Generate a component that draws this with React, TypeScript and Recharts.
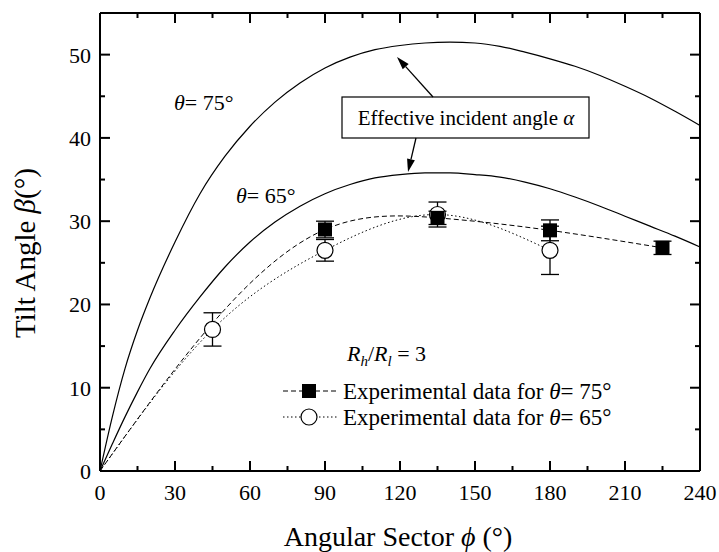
import React from 'react';
import { LineChart, Line, XAxis, YAxis, ErrorBar } from 'recharts';

// phi sample points for the two model curves (effective incident angle)
const phiCurve = [0, 5, 10, 15, 20, 30, 40, 50, 60, 70, 80, 90, 100, 110, 120, 130, 140, 150, 160, 170, 180, 190, 200, 210, 220, 230, 240];
const alpha75 = [0, 6.6, 12.3, 16.9, 20.8, 27.5, 33.3, 37.8, 41.4, 44.3, 46.6, 48.4, 49.7, 50.6, 51.1, 51.4, 51.5, 51.4, 51.0, 50.3, 49.5, 48.6, 47.5, 46.2, 44.8, 43.2, 41.5];
const alpha65 = [0, 3.3, 6.5, 9.5, 12.3, 16.9, 20.9, 24.5, 27.5, 29.9, 31.8, 33.3, 34.4, 35.2, 35.6, 35.8, 35.8, 35.6, 35.3, 34.7, 33.9, 32.9, 31.8, 30.6, 29.4, 28.2, 26.9];

// experimental data
const exp75Phi = [0, 90, 135, 180, 225];
const exp75Beta = [0, 29.0, 30.4, 28.9, 26.8];
const exp75Err = [0, 1.0, 0.8, 1.25, 0.8];

const exp65Phi = [0, 45, 90, 135, 180];
const exp65Beta = [0, 17.0, 26.5, 30.8, 26.5];
const exp65Err = [0, 2.0, 1.3, 1.5, 2.9];

const xTicks = [0, 15, 30, 45, 60, 75, 90, 105, 120, 135, 150, 165, 180, 195, 210, 225, 240];
const yTicks = [0, 5, 10, 15, 20, 25, 30, 35, 40, 45, 50, 55];

const curve75 = phiCurve.map((p, i) => ({ phi: p, a: alpha75[i] }));
const curve65 = phiCurve.map((p, i) => ({ phi: p, a: alpha65[i] }));
const data75 = exp75Phi.map((p, i) => ({ phi: p, b: exp75Beta[i], err: exp75Err[i] }));
const data65 = exp65Phi.map((p, i) => ({ phi: p, b: exp65Beta[i], err: exp65Err[i] }));

const FONT = '"Liberation Serif", "Times New Roman", serif';
const MAJ = 10;
const MIN = 5;

// natural cubic spline y(x) (like Origin's spline connector), as a d3-style curve factory
function splineX(context: any) {
  let xs: number[] = [];
  let ys: number[] = [];
  return {
    areaStart() {},
    areaEnd() {},
    lineStart() {
      xs = [];
      ys = [];
    },
    point(x: number, y: number) {
      xs.push(+x);
      ys.push(+y);
    },
    lineEnd() {
      const n = xs.length;
      if (!n) return;
      context.moveTo(xs[0], ys[0]);
      if (n === 1) return;
      if (n === 2) {
        context.lineTo(xs[1], ys[1]);
        return;
      }
      const h: number[] = [];
      for (let i = 0; i < n - 1; i++) h[i] = xs[i + 1] - xs[i];
      const M = new Array(n).fill(0);
      const b: number[] = [];
      const c: number[] = [];
      const d: number[] = [];
      const a: number[] = [];
      for (let i = 1; i < n - 1; i++) {
        a[i] = h[i - 1];
        b[i] = 2 * (h[i - 1] + h[i]);
        c[i] = h[i];
        d[i] = 6 * ((ys[i + 1] - ys[i]) / h[i] - (ys[i] - ys[i - 1]) / h[i - 1]);
      }
      for (let i = 2; i < n - 1; i++) {
        const w = a[i] / b[i - 1];
        b[i] -= w * c[i - 1];
        d[i] -= w * d[i - 1];
      }
      M[n - 2] = d[n - 2] / b[n - 2];
      for (let i = n - 3; i >= 1; i--) M[i] = (d[i] - c[i] * M[i + 1]) / b[i];
      for (let i = 0; i < n - 1; i++) {
        const s = (ys[i + 1] - ys[i]) / h[i];
        const d0 = s - (h[i] * (2 * M[i] + M[i + 1])) / 6;
        const d1 = s + (h[i] * (M[i] + 2 * M[i + 1])) / 6;
        context.bezierCurveTo(
          xs[i] + h[i] / 3,
          ys[i] + (d0 * h[i]) / 3,
          xs[i + 1] - h[i] / 3,
          ys[i + 1] - (d1 * h[i]) / 3,
          xs[i + 1],
          ys[i + 1]
        );
      }
    },
  };
}

const BottomTick = (props: any) => {
  const { x, y, payload } = props;
  const major = payload.value % 30 === 0;
  return (
    <g>
      <path d={`M${x},${y}L${x},${y - (major ? MAJ : MIN)}`} stroke="#000" strokeWidth={2} fill="none" />
      {major && (
        <text x={x} y={y + 29} textAnchor="middle" fontSize={22} style={{ fontFamily: FONT }} fill="#000">
          {payload.value}
        </text>
      )}
    </g>
  );
};

const TopTick = (props: any) => {
  const { x, y, payload } = props;
  const major = payload.value % 30 === 0;
  return <path d={`M${x},${y}L${x},${y + (major ? MAJ : MIN)}`} stroke="#000" strokeWidth={2} fill="none" />;
};

const LeftTick = (props: any) => {
  const { x, y, payload } = props;
  const major = payload.value % 10 === 0;
  return (
    <g>
      <path d={`M${x},${y}L${x + (major ? MAJ : MIN)},${y}`} stroke="#000" strokeWidth={2} fill="none" />
      {major && (
        <text x={x - 9} y={y + 8} textAnchor="end" fontSize={22} style={{ fontFamily: FONT }} fill="#000">
          {payload.value}
        </text>
      )}
    </g>
  );
};

const RightTick = (props: any) => {
  const { x, y, payload } = props;
  const major = payload.value % 10 === 0;
  return <path d={`M${x},${y}L${x - (major ? MAJ : MIN)},${y}`} stroke="#000" strokeWidth={2} fill="none" />;
};

const SquareDot = (props: any) => {
  const { cx, cy, payload, index } = props;
  if (payload.phi === 0) return <g key={`s${index}`} />;
  return <rect key={`s${index}`} x={cx - 7} y={cy - 7} width={14} height={14} fill="#000" />;
};

const CircleDot = (props: any) => {
  const { cx, cy, payload, index } = props;
  if (payload.phi === 0) return <g key={`c${index}`} />;
  return <circle key={`c${index}`} cx={cx} cy={cy} r={8} fill="#fff" stroke="#000" strokeWidth={1.2} />;
};

function Arrow({ x1, y1, x2, y2 }: { x1: number; y1: number; x2: number; y2: number }) {
  const dx = x2 - x1;
  const dy = y2 - y1;
  const len = Math.sqrt(dx * dx + dy * dy);
  const ux = dx / len;
  const uy = dy / len;
  const hl = 13;
  const hw = 4;
  const bx = x2 - ux * hl;
  const by = y2 - uy * hl;
  const pts = `${x2},${y2} ${bx - uy * hw},${by + ux * hw} ${bx + uy * hw},${by - ux * hw}`;
  return (
    <g>
      <line x1={x1} y1={y1} x2={bx} y2={by} stroke="#000" strokeWidth={1.3} />
      <polygon points={pts} fill="#000" />
    </g>
  );
}

export default function App() {
  return (
    <div style={{ position: 'absolute', left: 0, top: 0, width: 719, height: 552, background: '#fff' }}>
      <LineChart width={719} height={552} margin={{ top: 12, right: 18, bottom: 0, left: 0 }}>
        <XAxis
          dataKey="phi"
          type="number"
          domain={[0, 240]}
          ticks={xTicks}
          interval={0}
          height={81}
          tickSize={0}
          tickMargin={0}
          tick={<BottomTick />}
          axisLine={{ stroke: '#000', strokeWidth: 2 }}
        />
        <XAxis
          xAxisId="top"
          dataKey="phi"
          orientation="top"
          type="number"
          domain={[0, 240]}
          ticks={xTicks}
          interval={0}
          height={1}
          tickSize={0}
          tickMargin={0}
          tick={<TopTick />}
          axisLine={{ stroke: '#000', strokeWidth: 2 }}
        />
        <YAxis
          type="number"
          domain={[0, 55]}
          ticks={yTicks}
          interval={0}
          width={100}
          tickSize={0}
          tickMargin={0}
          tick={<LeftTick />}
          axisLine={{ stroke: '#000', strokeWidth: 2 }}
        />
        <YAxis
          yAxisId="right"
          orientation="right"
          type="number"
          domain={[0, 55]}
          ticks={yTicks}
          interval={0}
          width={1}
          tickSize={0}
          tickMargin={0}
          tick={<RightTick />}
          axisLine={{ stroke: '#000', strokeWidth: 2 }}
        />
        {/* hidden copy so the mirrored top/right frame axes get drawn */}
        <Line
          data={curve65}
          dataKey="a"
          xAxisId="top"
          yAxisId="right"
          stroke="none"
          dot={false}
          activeDot={false}
          isAnimationActive={false}
        />
        <Line data={curve75} dataKey="a" type="monotone" stroke="#000" strokeWidth={1.2} dot={false} isAnimationActive={false} />
        <Line data={curve65} dataKey="a" type="monotone" stroke="#000" strokeWidth={1.2} dot={false} isAnimationActive={false} />
        <Line
          data={data65}
          dataKey="b"
          type={splineX as any}
          stroke="#000"
          strokeWidth={1}
          strokeDasharray="1.5 2.5"
          dot={<CircleDot />}
          isAnimationActive={false}
        >
          <ErrorBar dataKey="err" direction="y" width={9} stroke="#000" strokeWidth={1.3} />
        </Line>
        <Line
          data={data75}
          dataKey="b"
          type={splineX as any}
          stroke="#000"
          strokeWidth={1}
          strokeDasharray="5 3"
          dot={<SquareDot />}
          isAnimationActive={false}
        >
          <ErrorBar dataKey="err" direction="y" width={9} stroke="#000" strokeWidth={1.3} />
        </Line>
      </LineChart>
      <svg width={719} height={552} style={{ position: 'absolute', left: 0, top: 0, pointerEvents: 'none', fontFamily: FONT }}>
        {/* curve labels */}
        <text x={174} y={110} fontSize={22}>
          <tspan fontStyle="italic">θ</tspan>= 75°
        </text>
        <text x={236} y={203} fontSize={22}>
          <tspan fontStyle="italic">θ</tspan>= 65°
        </text>
        {/* annotation box */}
        <rect x={342} y={97} width={247} height={41} fill="#fff" stroke="#000" strokeWidth={1.2} />
        <text x={466} y={125} fontSize={21} textAnchor="middle">
          Effective incident angle <tspan fontStyle="italic">α</tspan>
        </text>
        <Arrow x1={433} y1={97} x2={397} y2={57} />
        <Arrow x1={416} y1={138} x2={408} y2={172} />
        {/* legend */}
        <text x={347} y={361} fontSize={22}>
          <tspan fontStyle="italic">R</tspan>
          <tspan fontStyle="italic" fontSize={15} dy={5}>h</tspan>
          <tspan dy={-5}>/</tspan>
          <tspan fontStyle="italic">R</tspan>
          <tspan fontStyle="italic" fontSize={15} dy={5}>l</tspan>
          <tspan dy={-5}> = 3</tspan>
        </text>
        <line x1={283} y1={391} x2={337} y2={391} stroke="#000" strokeWidth={1} strokeDasharray="5 3" />
        <rect x={302} y={384} width={14} height={14} fill="#000" />
        <text x={343} y={399} fontSize={23}>
          Experimental data for <tspan fontStyle="italic">θ</tspan>= 75°
        </text>
        <line x1={283} y1={417} x2={337} y2={417} stroke="#000" strokeWidth={1} strokeDasharray="1.5 2.5" />
        <circle cx={309} cy={417} r={8} fill="#fff" stroke="#000" strokeWidth={1.2} />
        <text x={343} y={425} fontSize={23}>
          Experimental data for <tspan fontStyle="italic">θ</tspan>= 65°
        </text>
        {/* axis titles */}
        <text x={398} y={546} fontSize={28} textAnchor="middle">
          Angular Sector <tspan fontStyle="italic">ϕ</tspan> (°)
        </text>
        <text x={0} y={0} fontSize={29} textAnchor="middle" transform="translate(35 253) rotate(-90)">
          Tilt Angle <tspan fontStyle="italic">β</tspan>(°)
        </text>
      </svg>
    </div>
  );
}
